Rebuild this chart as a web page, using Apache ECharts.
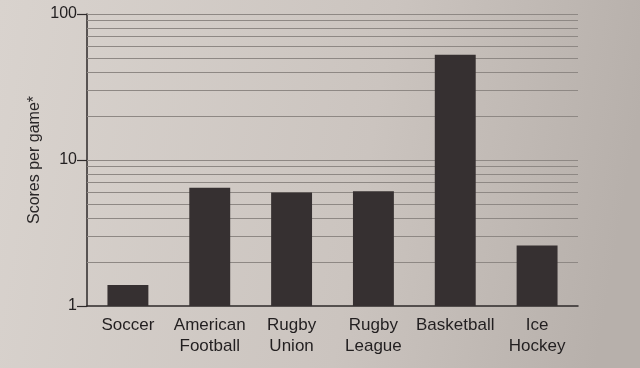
<!DOCTYPE html>
<html><head><meta charset="utf-8">
<script src="https://cdn.jsdelivr.net/npm/echarts@6/dist/echarts.min.js"></script>
<style>html,body{margin:0;padding:0;}#c{width:640px;height:368px;}</style>
</head><body><div id="c"></div>
<script>
var categories = ['Soccer', 'American\nFootball', 'Rugby\nUnion', 'Rugby\nLeague', 'Basketball', 'Ice\nHockey'];
var scoresPerGame = [1.39, 6.45, 6.0, 6.1, 52.5, 2.6];
var gridValues = [2,3,4,5,6,7,8,9,10,20,30,40,50,60,70,80,90,100];
var yTickLabels = [1, 10, 100];

var chart = echarts.init(document.getElementById('c'));
var font = 'Liberation Sans, Arial, sans-serif';
chart.setOption({
  animation: false,
  backgroundColor: {type:'linear', x:0, y:0, x2:1, y2:0.3, colorStops:[
    {offset:0, color:'#d9d3ce'}, {offset:0.6, color:'#cbc4bf'}, {offset:1, color:'#b7b0ab'}]},
  grid: {left: 87, right: 62, top: 14, bottom: 62, containLabel: false},
  xAxis: {
    type: 'category', data: categories,
    axisLine: {lineStyle: {color: '#2e2a2a', width: 1.5}},
    axisTick: {alignWithLabel: true, length: 6, lineStyle: {color: '#2e2a2a', width: 1.2}},
    axisLabel: {color: '#221f20', fontSize: 17, fontFamily: font, lineHeight: 21, margin: 9, interval: 0}
  },
  yAxis: {
    type: 'log', logBase: 10, min: 1, max: 100,
    name: 'Scores per game*', nameLocation: 'middle', nameGap: 44, nameMoveOverlap: false,
    nameTextStyle: {color: '#2a2728', fontSize: 16, fontFamily: font},
    axisLine: {show: true, lineStyle: {color: '#2e2a2a', width: 1.5}},
    axisTick: {show: true, length: 10, lineStyle: {color: '#2e2a2a', width: 1.2}},
    axisLabel: {color: '#221f20', fontSize: 16, fontFamily: font, margin: 10,
      formatter: function(v){ return yTickLabels.indexOf(Math.round(v)) >= 0 ? String(Math.round(v)) : ''; }},
    splitLine: {show: false}
  },
  series: [
    {
      type: 'bar', data: scoresPerGame, barWidth: '50%', z: 3,
      itemStyle: {color: '#363031'},
      markLine: {
        silent: true, symbol: 'none', z: 1, animation: false,
        label: {show: false},
        lineStyle: {color: '#8e8884', width: 1, type: 'solid'},
        data: gridValues.map(function(v){ return {yAxis: v}; })
      }
    }
  ]
});
</script></body></html>
